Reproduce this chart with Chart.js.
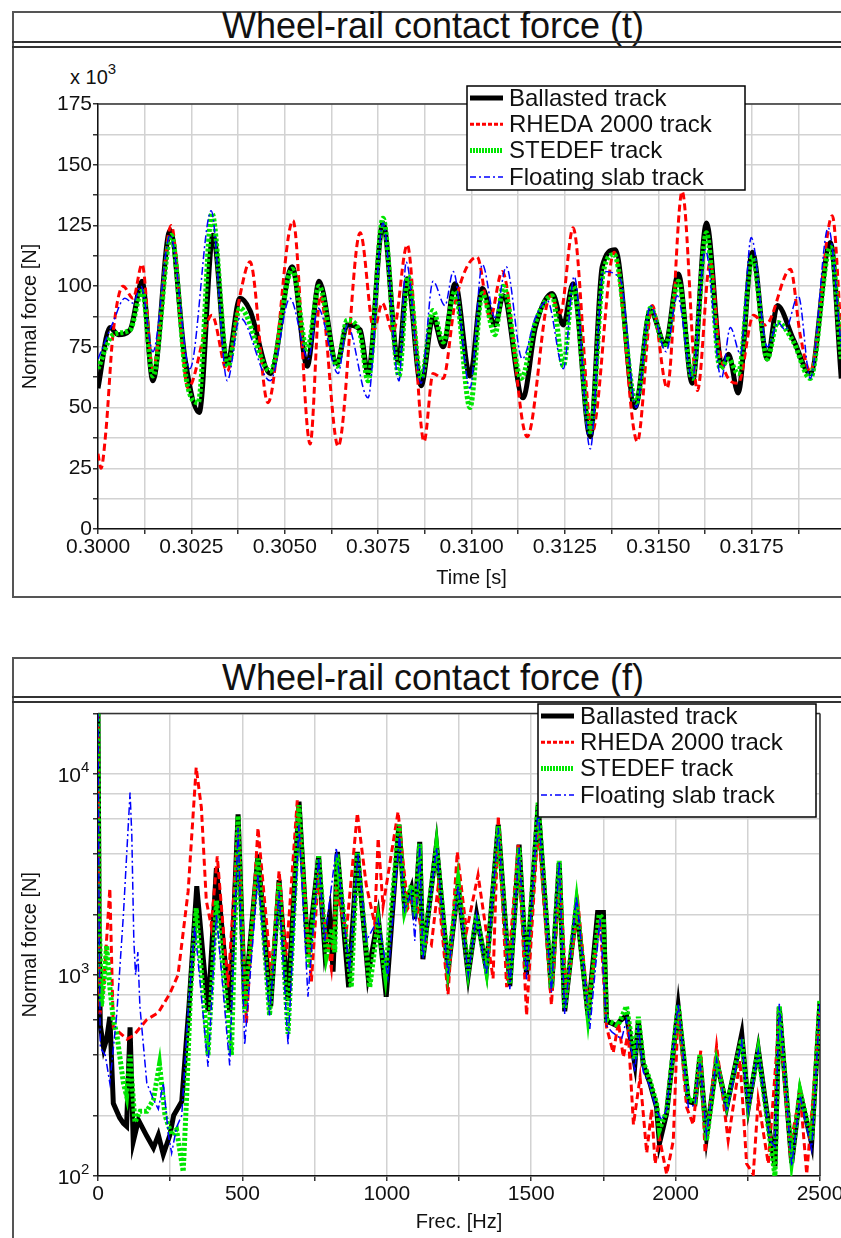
<!DOCTYPE html>
<html>
<head>
<meta charset="utf-8">
<script src="https://cdn.jsdelivr.net/npm/chart.js@4.4.0/dist/chart.umd.min.js"></script>
<style>
  html, body { margin: 0; padding: 0; background: #fff; overflow: hidden; }
  body { width: 841px; height: 1238px; position: relative; font-family: "Liberation Sans", Arial, sans-serif; color: #111; }
  .frame { position: absolute; left: 12px; width: 842px; border: 2px solid #555; box-sizing: border-box; }
  .title { position: absolute; left: 12px; width: 842px; text-align: center; font-size: 36px; height: 34px; line-height: 34px; }
  .rule { position: absolute; left: 12px; width: 842px; border-top: 2px solid #333; height: 0; }
  canvas { position: absolute; left: 0; }
  .mult { position: absolute; left: 70px; top: 62px; font-size: 20px; }
  .mult sup { font-size: 15px; position: relative; top: -2px; }
</style>
</head>
<body>
<div class="frame" style="top:11px;height:587px"></div>
<div class="title" style="top:9px">Wheel-rail contact force (t)</div>
<div class="rule" style="top:41px"></div>
<div class="rule" style="top:46px"></div>
<div class="mult">x 10<sup>3</sup></div>
<canvas id="timeChart" width="860" height="547" style="top:50px"></canvas>

<div class="frame" style="top:657px;height:700px"></div>
<div class="title" style="top:661px">Wheel-rail contact force (f)</div>
<div class="rule" style="top:696px"></div>
<div class="rule" style="top:701px"></div>
<canvas id="freqChart" width="860" height="538" style="top:700px"></canvas>

<script>
// series names
const seriesNames = ['Ballasted track', 'RHEDA 2000 track', 'STEDEF track', 'Floating slab track'];

// time domain: [time s, force x10^3 N]
const ballastedT = [[0.30000,58],[0.30032,83],[0.30054,80],[0.30086,82],[0.30118,102],[0.30147,61],[0.30193,123],[0.30233,70],[0.30271,48],[0.30308,121],[0.30346,68],[0.30380,95],[0.30407,90],[0.30461,64],[0.30520,108],[0.30560,67],[0.30592,102],[0.30640,68],[0.30667,84],[0.30702,82],[0.30723,64],[0.30763,126],[0.30804,69],[0.30828,103],[0.30865,59],[0.30897,87],[0.30924,75],[0.30956,101],[0.30996,63],[0.31029,99],[0.31063,84],[0.31085,96],[0.31138,54],[0.31171,83],[0.31216,97],[0.31246,84],[0.31272,101],[0.31318,38],[0.31350,108],[0.31385,115],[0.31438,50],[0.31479,90],[0.31519,76],[0.31554,105],[0.31591,60],[0.31629,126],[0.31671,67],[0.31688,72],[0.31714,56],[0.31752,114],[0.31792,70],[0.31819,92],[0.31862,78],[0.31907,64],[0.31961,118],[0.31990,62]];
const rhedaT = [[0.30000,31],[0.30008,25],[0.30021,40],[0.30040,80],[0.30067,100],[0.30094,95],[0.30118,109],[0.30147,66],[0.30196,125],[0.30241,58],[0.30305,88],[0.30346,65],[0.30380,96],[0.30407,110],[0.30455,52],[0.30522,127],[0.30568,35],[0.30595,96],[0.30643,34],[0.30702,122],[0.30739,82],[0.30761,93],[0.30790,81],[0.30828,117],[0.30873,36],[0.30897,64],[0.30924,62],[0.30956,93],[0.31015,112],[0.31050,87],[0.31082,106],[0.31149,38],[0.31211,96],[0.31238,89],[0.31272,124],[0.31323,40],[0.31382,114],[0.31444,36],[0.31484,92],[0.31524,58],[0.31564,139],[0.31605,57],[0.31639,110],[0.31666,72],[0.31714,60],[0.31755,88],[0.31787,84],[0.31854,107],[0.31880,80],[0.31907,65],[0.31966,129],[0.31990,80]];
const stedefT = [[0.30000,66],[0.30040,80],[0.30086,82],[0.30118,98],[0.30147,63],[0.30196,121],[0.30236,62],[0.30268,52],[0.30305,130],[0.30348,67],[0.30380,91],[0.30461,65],[0.30520,107],[0.30560,74],[0.30592,100],[0.30640,67],[0.30667,86],[0.30702,80],[0.30723,61],[0.30763,128],[0.30806,63],[0.30830,104],[0.30865,62],[0.30897,90],[0.30924,77],[0.30956,98],[0.30996,50],[0.31029,97],[0.31063,80],[0.31085,100],[0.31133,62],[0.31171,85],[0.31216,96],[0.31246,67],[0.31272,100],[0.31318,40],[0.31353,106],[0.31382,113],[0.31441,52],[0.31479,91],[0.31519,75],[0.31554,102],[0.31591,62],[0.31629,122],[0.31666,66],[0.31688,70],[0.31714,64],[0.31752,112],[0.31792,70],[0.31819,85],[0.31862,77],[0.31907,62],[0.31961,116],[0.31990,70]];
const floatingT = [[0.30000,70],[0.30040,85],[0.30072,95],[0.30094,93],[0.30115,100],[0.30147,73],[0.30193,121],[0.30246,66],[0.30303,131],[0.30346,61],[0.30380,87],[0.30461,61],[0.30514,95],[0.30563,70],[0.30589,91],[0.30643,64],[0.30667,84],[0.30723,54],[0.30763,126],[0.30806,61],[0.30825,110],[0.30865,60],[0.30897,102],[0.30929,92],[0.30951,106],[0.30996,58],[0.31029,109],[0.31063,87],[0.31093,108],[0.31136,70],[0.31171,87],[0.31203,94],[0.31246,66],[0.31275,104],[0.31318,33],[0.31353,106],[0.31398,103],[0.31441,50],[0.31479,92],[0.31521,73],[0.31551,96],[0.31591,62],[0.31626,115],[0.31669,62],[0.31693,83],[0.31720,72],[0.31749,120],[0.31792,75],[0.31821,85],[0.31840,82],[0.31875,96],[0.31907,62],[0.31955,124],[0.31990,75]];

// frequency domain: [frequency Hz, force N]
const ballastedF = [[0,20000],[4,1500],[8,560],[20,430],[30,480],[41,620],[53,230],[75,195],[88,183],[99,177],[111,550],[122,148],[140,190],[169,158],[192,138],[209,160],[226,128],[249,160],[262,200],[290,235],[315,700],[342,2770],[381,660],[410,3400],[456,655],[485,6300],[508,720],[554,3980],[598,700],[627,2970],[658,745],[696,7300],[727,1260],[764,3900],[785,1350],[802,2000],[814,1040],[829,4100],[868,870],[898,4100],[935,1000],[970,1950],[998,780],[1042,5600],[1062,2150],[1085,2700],[1097,1900],[1114,4600],[1125,1200],[1172,4450],[1212,1040],[1247,2800],[1282,1000],[1311,2000],[1345,1070],[1386,5600],[1426,880],[1458,4450],[1484,1000],[1524,7000],[1570,840],[1597,3600],[1616,660],[1657,2200],[1697,630],[1730,2050],[1750,2050],[1761,590],[1773,580],[1796,560],[1807,590],[1830,630],[1859,360],[1871,590],[1888,360],[1911,290],[1934,220],[1944,145],[1969,205],[2009,700],[2044,235],[2067,230],[2084,390],[2107,157],[2142,375],[2177,220],[2229,510],[2252,220],[2286,430],[2327,160],[2344,112],[2359,690],[2402,116],[2431,260],[2471,145],[2500,740]];
const rhedaF = [[0,20000],[4,1200],[7,640],[20,900],[41,2700],[53,550],[100,480],[123,500],[169,600],[209,650],[249,810],[277,1000],[312,2600],[340,10800],[358,6800],[375,2350],[392,1750],[413,3900],[450,870],[485,5500],[514,580],[554,5400],[600,1000],[627,3300],[652,1250],[690,7400],[739,930],[762,2950],[808,1080],[825,2600],[860,1650],[898,6400],[929,2800],[958,1800],[970,4800],[987,2200],[1039,6500],[1073,2150],[1100,2500],[1125,1480],[1154,1400],[1177,2700],[1212,800],[1244,4100],[1276,1650],[1316,3150],[1368,960],[1386,6200],[1415,870],[1455,4450],[1484,630],[1524,5600],[1570,710],[1599,3150],[1622,800],[1663,2200],[1697,700],[1738,1900],[1761,550],[1784,410],[1802,580],[1819,390],[1836,520],[1854,180],[1877,310],[1900,130],[1917,215],[1929,115],[1944,155],[1969,102],[1992,150],[2009,690],[2038,220],[2061,180],[2087,420],[2102,130],[2142,445],[2182,150],[2223,375],[2246,115],[2269,102],[2286,240],[2321,115],[2359,620],[2396,138],[2431,260],[2454,102],[2500,660]];
const stedefF = [[0,20000],[4,2000],[12,700],[22,1000],[30,1400],[40,900],[53,600],[65,510],[88,290],[99,250],[111,400],[128,185],[146,210],[169,210],[192,240],[213,360],[232,200],[255,160],[272,170],[295,105],[307,250],[320,800],[340,2150],[381,400],[410,2350],[462,400],[485,6200],[508,650],[554,3800],[594,630],[627,2870],[658,510],[696,7000],[729,1080],[764,3900],[791,1250],[810,1700],[820,1300],[828,3980],[877,870],[898,4100],[941,870],[970,1850],[995,1000],[1042,5600],[1062,2100],[1085,2800],[1097,1950],[1114,4500],[1125,1250],[1172,4400],[1212,1100],[1247,2900],[1282,1050],[1311,2000],[1345,1050],[1386,5500],[1426,900],[1458,4300],[1484,1050],[1524,7200],[1570,860],[1597,3700],[1616,680],[1657,2300],[1697,620],[1735,2000],[1750,1900],[1761,600],[1780,580],[1800,560],[1830,700],[1859,380],[1871,620],[1888,370],[1911,300],[1934,230],[1944,170],[1969,210],[2009,710],[2044,240],[2067,235],[2084,400],[2107,150],[2142,370],[2177,225],[2229,480],[2252,225],[2286,420],[2327,150],[2344,100],[2359,700],[2402,120],[2431,265],[2471,150],[2500,760]];
const floatingF = [[0,20000],[4,1600],[8,435],[25,400],[41,290],[65,640],[88,2000],[111,8100],[117,5000],[124,1500],[130,1000],[138,1300],[145,700],[169,290],[192,240],[209,215],[226,290],[244,160],[255,130],[272,175],[290,200],[310,600],[335,1750],[381,350],[410,2000],[456,355],[485,5400],[508,450],[554,3150],[594,630],[627,2600],[658,450],[696,5600],[727,780],[764,3800],[785,1480],[825,4300],[871,1040],[900,4000],[929,1480],[970,1900],[1004,970],[1044,5000],[1062,2100],[1085,2600],[1097,1480],[1114,4450],[1125,1200],[1172,4300],[1212,1000],[1247,2800],[1282,1000],[1311,2000],[1345,1000],[1386,5400],[1426,850],[1458,4300],[1484,950],[1524,6800],[1570,820],[1597,3700],[1616,640],[1657,2450],[1703,540],[1738,1900],[1761,560],[1780,520],[1813,480],[1830,600],[1859,330],[1871,560],[1888,330],[1911,280],[1934,210],[1952,190],[1969,215],[2009,720],[2044,220],[2067,225],[2084,380],[2107,160],[2142,380],[2177,210],[2229,470],[2252,210],[2286,420],[2327,150],[2344,140],[2359,720],[2402,112],[2431,250],[2471,135],[2500,730]];

// axis ticks and labels
const timeLabels = ['0.3000', '0.3025', '0.3050', '0.3075', '0.3100', '0.3125', '0.3150', '0.3175'];
const forceLabels = ['0', '25', '50', '75', '100', '125', '150', '175'];
const freqLabels = ['0', '500', '1000', '1500', '2000', '2500'];
const logTicks = [100, 200, 400, 600, 800, 1000, 2000, 4000, 6000, 8000, 10000, 20000];
const logLabels = [[100, '2'], [1000, '3'], [10000, '4']];

const styles = [
  { color: '#000000', width: 5, dash: [], legendDash: [], order: 4 },
  { color: '#ff0000', width: 3, dash: [7, 4], legendDash: [4, 2], order: 3 },
  { color: '#00e600', width: 5, dash: [3, 2], legendDash: [2, 1], order: 2 },
  { color: '#0000ff', width: 1.5, dash: [8, 3, 2, 3], legendDash: [6, 3, 2, 3], order: 1 }
];

Chart.defaults.font.family = '"Liberation Sans", Arial, sans-serif';
Chart.defaults.color = '#111';

function makeSets(list, smooth) {
  return list.map((pts, i) => ({
    label: seriesNames[i],
    data: pts.map(p => ({ x: p[0], y: p[1] })),
    borderColor: styles[i].color,
    borderWidth: styles[i].width,
    borderDash: styles[i].dash,
    legendDash: styles[i].legendDash,
    order: styles[i].order,
    pointRadius: 0,
    fill: false,
    cubicInterpolationMode: smooth ? 'monotone' : 'default',
    tension: 0
  }));
}

const boxLegend = {
  id: 'boxLegend',
  beforeDatasetsDraw(chart, args, opts) {
    const { ctx, chartArea: a } = chart;
    ctx.save();
    ctx.strokeStyle = '#333';
    ctx.lineWidth = 1.5;
    ctx.beginPath();
    ctx.moveTo(a.left, a.top);
    ctx.lineTo(a.right, a.top);
    if (opts.rightEdge) {
      ctx.moveTo(a.right, a.top);
      ctx.lineTo(a.right, a.bottom);
    }
    ctx.stroke();
    ctx.restore();
  },
  afterDraw(chart, args, opts) {
    const ctx = chart.ctx;
    const { x, y, w, h } = opts;
    ctx.save();
    if (opts.logLabels) {
      const ys = chart.scales.y;
      ctx.fillStyle = '#111';
      opts.logLabels.forEach(([v, e]) => {
        const py = ys.getPixelForValue(v);
        ctx.font = '21px "Liberation Sans", Arial, sans-serif';
        ctx.textAlign = 'right';
        ctx.textBaseline = 'alphabetic';
        ctx.fillText('10', 81, py + 8);
        ctx.font = '15px "Liberation Sans", Arial, sans-serif';
        ctx.textAlign = 'left';
        ctx.fillText(e, 81, py - 2);
      });
    }
    ctx.fillStyle = '#fff';
    ctx.fillRect(x, y, w, h);
    ctx.strokeStyle = '#000';
    ctx.lineWidth = 1.5;
    ctx.strokeRect(x, y, w, h);
    ctx.font = '24px "Liberation Sans", Arial, sans-serif';
    ctx.textAlign = 'left';
    ctx.textBaseline = 'middle';
    chart.data.datasets.forEach((ds, i) => {
      const cy = y + 12 + i * 26.3;
      ctx.save();
      ctx.strokeStyle = ds.borderColor;
      ctx.lineWidth = Math.min(ds.borderWidth, 5);
      ctx.setLineDash(ds.legendDash);
      ctx.beginPath();
      ctx.moveTo(x + 3, cy);
      ctx.lineTo(x + 36, cy);
      ctx.stroke();
      ctx.restore();
      ctx.fillStyle = '#111';
      ctx.fillText(ds.label, x + 42, cy + 1);
    });
    ctx.restore();
  }
};

const gridOpts = { color: '#d2d2d2', lineWidth: 1.5, tickLength: 5, tickColor: '#333' };
const borderOpts = { color: '#111', width: 1.5 };

new Chart(document.getElementById('timeChart'), {
  type: 'line',
  data: { datasets: makeSets([ballastedT, rhedaT, stedefT, floatingT], true) },
  options: {
    responsive: false,
    animation: false,
    layout: { padding: { top: 54, right: 15, left: 0, bottom: 0 } },
    plugins: {
      legend: { display: false },
      tooltip: { enabled: false },
      boxLegend: { x: 467, y: 36, w: 278, h: 104 }
    },
    scales: {
      x: {
        type: 'linear', min: 0.3, max: 0.32,
        afterFit: s => { s.height = 68; },
        grid: gridOpts, border: borderOpts,
        ticks: {
          stepSize: 0.00125, autoSkip: false, maxRotation: 0, padding: 1,
          font: { size: 21 },
          callback: (v, i) => (i % 2 === 0 && timeLabels[i / 2]) ? timeLabels[i / 2] : ''
        },
        title: { display: true, text: 'Time [s]', font: { size: 20 }, padding: { top: 0, bottom: 7 } }
      },
      y: {
        type: 'linear', min: 0, max: 175,
        afterFit: s => { s.width = 98; },
        grid: gridOpts, border: borderOpts,
        ticks: {
          stepSize: 12.5, autoSkip: false, padding: 1,
          font: { size: 21 },
          callback: (v, i) => (i % 2 === 0) ? forceLabels[i / 2] : ''
        },
        title: { display: true, text: 'Normal force [N]', font: { size: 20 }, padding: { top: 18, bottom: 0 } }
      }
    }
  },
  plugins: [boxLegend]
});

new Chart(document.getElementById('freqChart'), {
  type: 'line',
  data: { datasets: makeSets([ballastedF, rhedaF, stedefF, floatingF], false) },
  options: {
    responsive: false,
    animation: false,
    layout: { padding: { top: 10, right: 40, left: 0, bottom: 0 } },
    plugins: {
      legend: { display: false },
      tooltip: { enabled: false },
      boxLegend: { x: 538, y: 4, w: 278, h: 113, rightEdge: true, logLabels: logLabels }
    },
    scales: {
      x: {
        type: 'linear', min: 0, max: 2500,
        afterFit: s => { s.height = 62; },
        grid: gridOpts, border: borderOpts,
        ticks: {
          stepSize: 250, autoSkip: false, maxRotation: 0, padding: 1,
          font: { size: 21 },
          callback: (v, i) => (i % 2 === 0) ? freqLabels[i / 2] : ''
        },
        title: { display: true, text: 'Frec. [Hz]', font: { size: 20 }, padding: { top: 0, bottom: 4 } }
      },
      y: {
        type: 'logarithmic', min: 100, max: 20000,
        afterFit: s => { s.width = 98; },
        afterBuildTicks: s => { s.ticks = logTicks.map(v => ({ value: v })); },
        grid: gridOpts, border: borderOpts,
        ticks: { autoSkip: false, padding: 1, font: { size: 21 }, callback: () => '' },
        title: { display: true, text: 'Normal force [N]', font: { size: 20 }, padding: { top: 18, bottom: 0 } }
      }
    }
  },
  plugins: [boxLegend]
});
</script>
</body>
</html>
